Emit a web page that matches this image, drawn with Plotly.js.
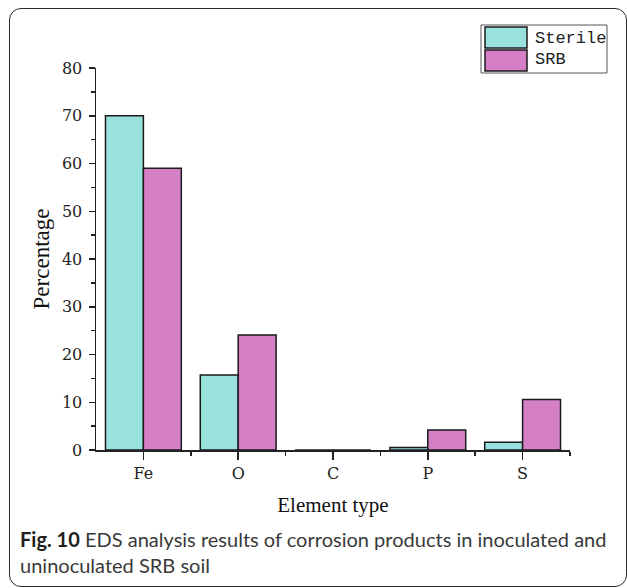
<!DOCTYPE html>
<html>
<head>
<meta charset="utf-8">
<script src="https://cdn.plot.ly/plotly-3.0.1.min.js"></script>
<style>
  html, body { margin: 0; padding: 0; background: #fff; }
  #wrap { position: relative; width: 627px; height: 588px; overflow: hidden; background: #fff; }
  #chart { position: absolute; left: 0; top: 0; width: 627px; height: 588px; }
  #frame {
    position: absolute; left: 9px; top: 8px; width: 618px; height: 579px;
    box-sizing: border-box; border: 1.5px solid #2a2a2a; border-radius: 12px;
    pointer-events: none;
  }
  #caption {
    position: absolute; left: 20px; top: 526px; width: 600px;
    font-family: "Lato", "Noto Sans", sans-serif; color: #3a3a3a;
    line-height: 26px; white-space: nowrap;
  }
  #caption b { color: #231f20; font-weight: 700; }
</style>
</head>
<body>
<div id="wrap">
  <div id="chart"></div>
  <div id="frame"></div>
  <div id="caption"><span id="cap1"><b>Fig. 10</b> EDS analysis results of corrosion products in inoculated and</span><br>uninoculated SRB soil</div>
</div>
<script>
// EDS element composition (atomic percentage) of the corrosion products
const elements = ["Fe", "O", "C", "P", "S"];
const seriesNames = ["Sterile", "SRB"];
const sterileValues = [70.0, 15.7, 0.0, 0.5, 1.6];
const srbValues = [59.0, 24.1, 0.0, 4.2, 10.6];
const yTickValues = [0, 10, 20, 30, 40, 50, 60, 70, 80];

const colors = ["#98e1dc", "#d580c6"];
const serif = "DejaVu Serif, Liberation Serif, serif";
const titleFont = "Liberation Serif, Times New Roman, serif";

// plot area in pixels (used for the hand-built legend)
const PL = 96, PT = 68, PW = 474, PH = 382;
const fx = x => (x - PL) / PW;
const fy = y => (PT + PH - y) / PH;

const idx = elements.map((_, i) => i);

const traces = [sterileValues, srbValues].map((vals, k) => ({
  type: "bar",
  name: seriesNames[k],
  x: idx,
  y: vals,
  marker: { color: colors[k], line: { color: "#1a1a1a", width: 1.5 } },
  showlegend: false,
  hoverinfo: "x+y"
}));

// legend box with large swatches
const legendItems = [
  { y0: 27, y1: 48, ty: 38 },
  { y0: 50, y1: 71, ty: 60 }
];
const shapes = [{
  type: "rect", xref: "paper", yref: "paper",
  x0: fx(481), x1: fx(607), y0: fy(73), y1: fy(25),
  line: { color: "#555", width: 1 }, fillcolor: "rgba(0,0,0,0)"
}];
const annotations = [];
legendItems.forEach((it, k) => {
  shapes.push({
    type: "rect", xref: "paper", yref: "paper",
    x0: fx(485), x1: fx(527), y0: fy(it.y1), y1: fy(it.y0),
    line: { color: "#1a1a1a", width: 1.5 }, fillcolor: colors[k]
  });
  annotations.push({
    xref: "paper", yref: "paper", x: fx(533), y: fy(it.ty),
    xanchor: "left", yanchor: "middle", showarrow: false,
    text: seriesNames[k],
    font: { family: "Liberation Mono, monospace", size: 17, color: "#222" }
  });
});

const layout = {
  width: 627, height: 588,
  margin: { l: PL, r: 627 - PL - PW, t: PT, b: 588 - PT - PH, pad: 0 },
  paper_bgcolor: "rgba(0,0,0,0)", plot_bgcolor: "#fff",
  barmode: "group", bargap: 0.2, bargroupgap: 0,
  showlegend: false,
  xaxis: {
    type: "linear", range: [-0.5, elements.length - 0.5],
    tickmode: "array", tickvals: idx, ticktext: elements,
    ticks: "outside", ticklen: 8, tickwidth: 1.5, tickcolor: "#222",
    minor: { tickmode: "array", tickvals: idx.map(i => i + 0.5), ticks: "outside", ticklen: 4, tickwidth: 1.5, tickcolor: "#222" },
    showline: true, linecolor: "#222", linewidth: 1.5,
    showgrid: false, zeroline: false,
    tickfont: { family: serif, size: 16, color: "#222" },
    title: { text: "Element type", font: { family: titleFont, size: 21, color: "#111" }, standoff: 15 },
    automargin: false
  },
  yaxis: {
    range: [0, 80], tickmode: "array", tickvals: yTickValues,
    ticks: "outside", ticklen: 6, tickwidth: 1.5, tickcolor: "#222",
    minor: { dtick: 5, ticks: "outside", ticklen: 4, tickwidth: 1.5, tickcolor: "#222" },
    showline: true, linecolor: "#222", linewidth: 1.5,
    showgrid: false, zeroline: false,
    tickfont: { family: serif, size: 16, color: "#222" },
    ticklabelstandoff: 3,
    title: { text: "Percentage", font: { family: titleFont, size: 23, color: "#111" }, standoff: 6 },
    automargin: false
  },
  shapes: shapes,
  annotations: annotations
};

Plotly.newPlot("chart", traces, layout, { displayModeBar: false, staticPlot: true });

// fit the caption's first line to the frame width
(function fitCaption() {
  const cap = document.getElementById("caption");
  const line = document.getElementById("cap1");
  let size = 19;
  cap.style.fontSize = size + "px";
  const w = line.getBoundingClientRect().width;
  if (w > 0) {
    size = size * 587 / w;
    cap.style.fontSize = size.toFixed(2) + "px";
  }
})();
</script>
</body>
</html>
